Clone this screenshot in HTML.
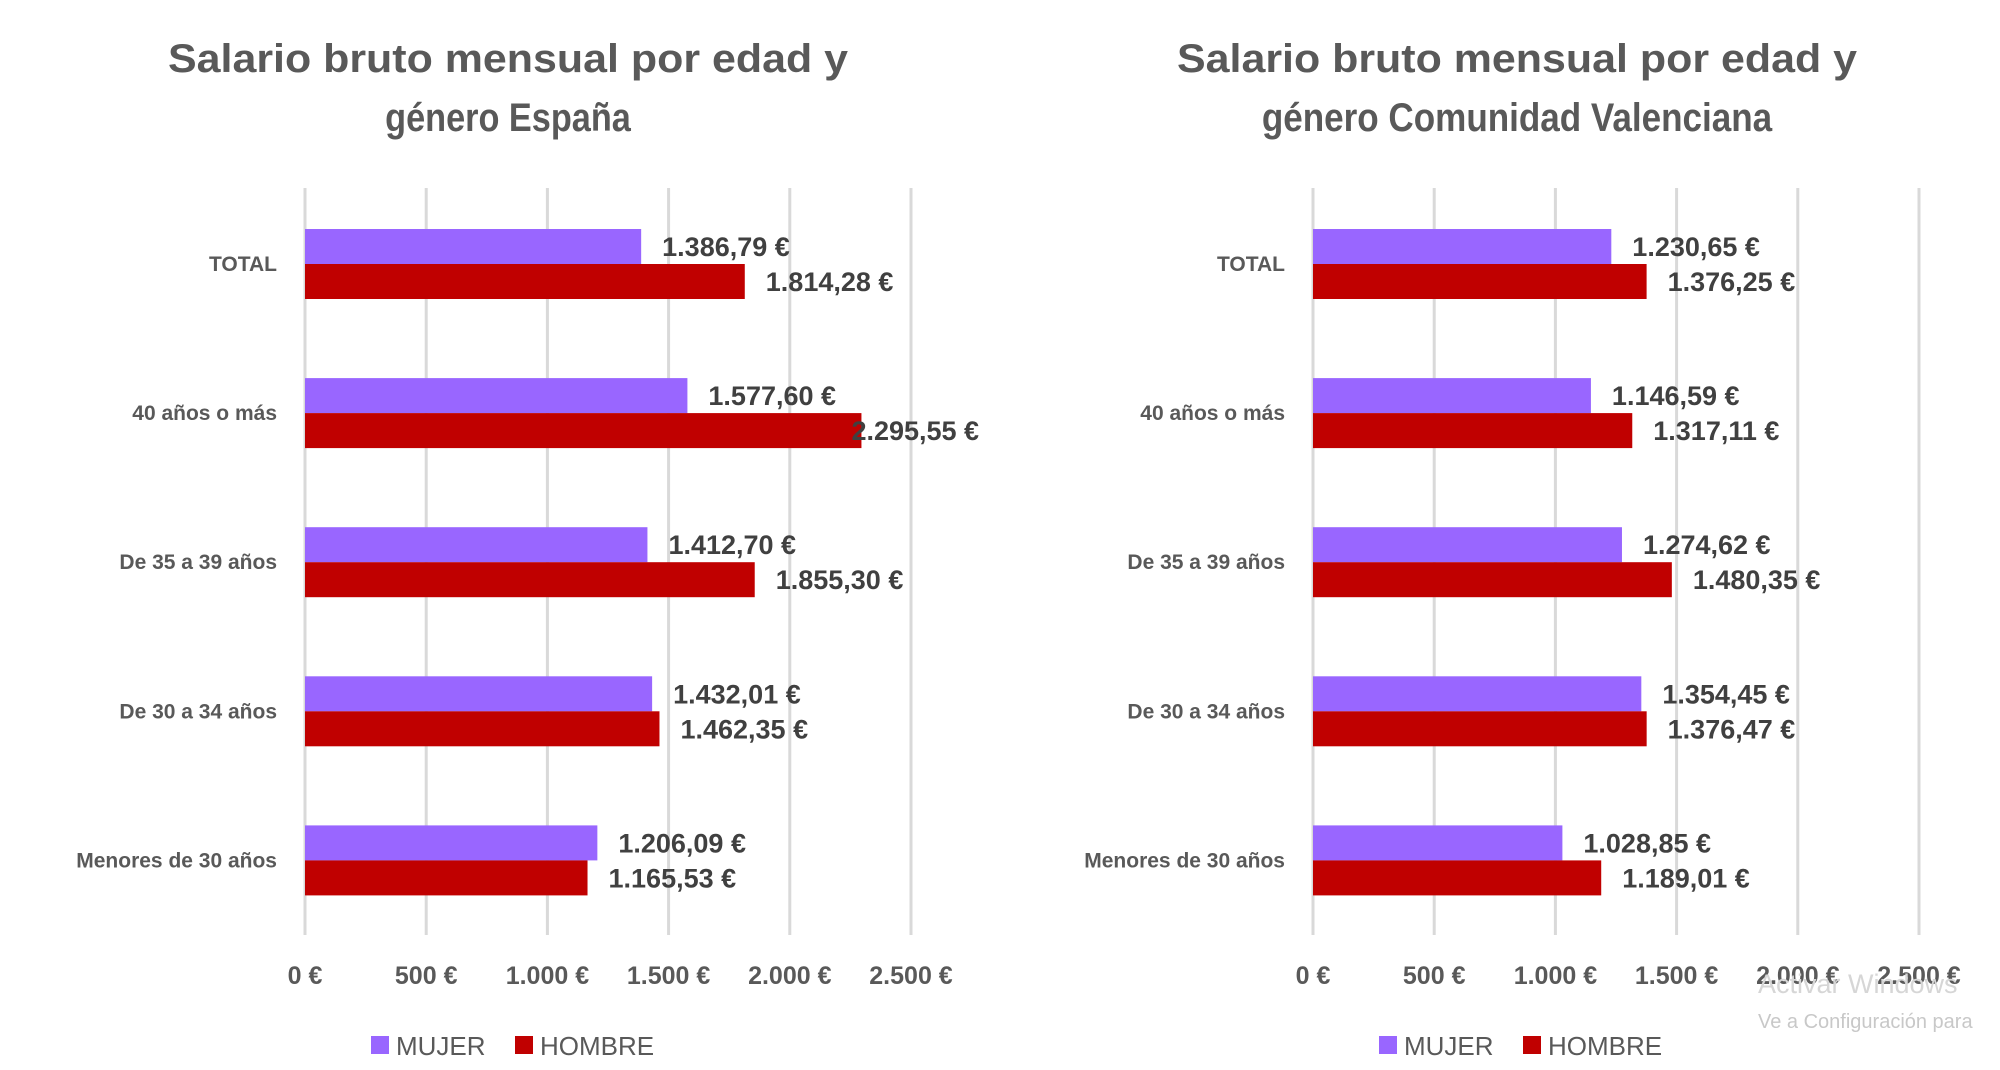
<!DOCTYPE html>
<html><head><meta charset="utf-8"><style>
html,body{margin:0;padding:0;background:#fff;}
svg{display:block;font-family:"Liberation Sans",sans-serif;}
</style></head><body>
<svg id="chart" width="2000" height="1070" viewBox="0 0 2000 1070" xmlns="http://www.w3.org/2000/svg">
<g id="wm">
<text x="1758" y="993" font-size="27" fill="#d6d6d6">Activar Windows</text>
<text x="1758" y="1028" font-size="20" fill="#c8c8c8">Ve a Configuración para</text>
</g>
</svg>
<script>
const categories = ["TOTAL","40 años o más","De 35 a 39 años","De 30 a 34 años","Menores de 30 años"];
const spainMujer = [1386.79,1577.60,1412.70,1432.01,1206.09];
const spainHombre = [1814.28,2295.55,1855.30,1462.35,1165.53];
const valMujer = [1230.65,1146.59,1274.62,1354.45,1028.85];
const valHombre = [1376.25,1317.11,1480.35,1376.47,1189.01];
const ticks = [0,500,1000,1500,2000,2500];
const tickLabels = ["0 €","500 €","1.000 €","1.500 €","2.000 €","2.500 €"];
const seriesNames = ["MUJER","HOMBRE"];

const NS="http://www.w3.org/2000/svg";
const svg=document.getElementById('chart');
function mk(tag,attrs,parent){const e=document.createElementNS(NS,tag);for(const k in attrs)e.setAttribute(k,attrs[k]);(parent||svg).appendChild(e);return e;}
function fmt(v){const p=v.toFixed(2).split('.');return p[0].replace(/\B(?=(\d{3})+(?!\d))/g,'.')+','+p[1]+' €';}

function drawChart(id,title1,title2,x0,titleCx,mujer,hombre){
  const g=mk('g',{});
  
  
  const pxPer=121.2/500;
  const xs=v=>x0+v*pxPer;
  const yc=i=>264+i*149.1;
  const t1=mk('text',{x:titleCx,y:72,'text-anchor':'middle','font-size':40,'font-weight':'bold',fill:'#595959',textLength:680,lengthAdjust:'spacingAndGlyphs'},g);
  t1.textContent=title1;
  
  
  const t2=mk('text',{x:titleCx,y:131,'text-anchor':'middle','font-size':40,'font-weight':'bold',fill:'#595959',textLength:title2.length*18.9,lengthAdjust:'spacingAndGlyphs'},g);
  t2.textContent=title2;
  
  
  ticks.forEach((t,i)=>{
    const l=mk('line',{x1:xs(t),x2:xs(t),y1:188,y2:935,stroke:'#d9d9d9','stroke-width':3},g);
    
    
    const tl=mk('text',{x:xs(t),y:984,'text-anchor':'middle','font-size':25,'font-weight':'bold',fill:'#595959'},g);
    tl.textContent=tickLabels[i];
    
    
  });
  categories.forEach((c,i)=>{
    const cl=mk('text',{x:x0-28,y:yc(i)+7,'text-anchor':'end','font-size':21,'font-weight':'bold',fill:'#595959'},g);
    cl.textContent=c;
    
    
    const bm=mk('rect',{x:x0,y:yc(i)-35,width:xs(mujer[i])-x0,height:35,fill:'#9966ff'},g);
    
    
    const bh=mk('rect',{x:x0,y:yc(i),width:xs(hombre[i])-x0,height:35,fill:'#c00000'},g);
    
    
    const lm=mk('text',{x:xs(mujer[i])+21,y:yc(i)-8,'font-size':27,'font-weight':'bold',fill:'#404040'},g);
    lm.textContent=fmt(mujer[i]);
    
    
    const offH=hombre[i]>2200?-10:21;
    const lh=mk('text',{x:xs(hombre[i])+offH,y:yc(i)+27,'font-size':27,'font-weight':'bold',fill:'#404040'},g);
    lh.textContent=fmt(hombre[i]);
    
    
  });
  const lx=x0+66;
  const lg=mk('g',{},g);
  
  
  const colors=['#9966ff','#c00000'];
  const offs=[0,144];
  seriesNames.forEach((n,i)=>{
    const sq=mk('rect',{x:lx+offs[i],y:1036,width:18,height:18,fill:colors[i]},lg);
    
    
    const tx=mk('text',{x:lx+offs[i]+25,y:1055,'font-size':26,fill:'#595959'},lg);
    tx.textContent=n;
    
    
  });
}
drawChart('chart-espana','Salario bruto mensual por edad y','género España',305,508,spainMujer,spainHombre);
drawChart('chart-valencia','Salario bruto mensual por edad y','género Comunidad Valenciana',1313,1517,valMujer,valHombre);
svg.appendChild(document.getElementById('wm'));
</script>
</body></html>
